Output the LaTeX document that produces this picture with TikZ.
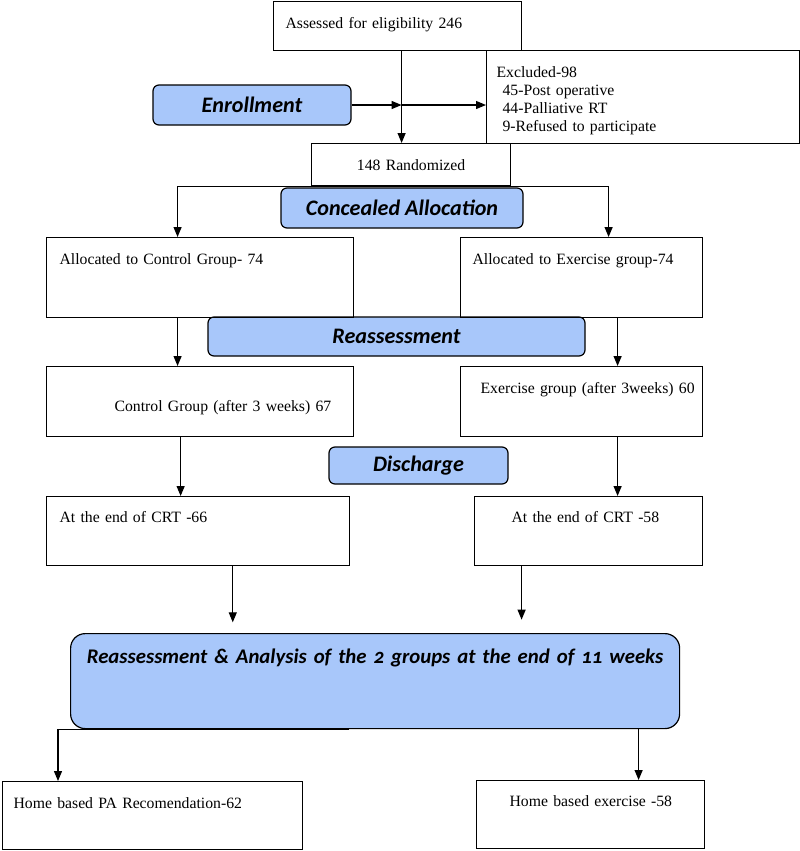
\documentclass[tikz,border=0pt]{standalone}
\usepackage{fontspec}
\setmainfont{Liberation Serif}
\newfontfamily\stagefont{Carlito}[Numbers=OldStyle]
\usetikzlibrary{arrows.meta, backgrounds}

\begin{document}
\begin{tikzpicture}
	[x=0.75pt,y=-0.75pt,line cap=round,
	%Styles
	box/.style={draw,line width=0.9pt,anchor=north west,inner sep=0pt,align=left,font=\fontsize{11.8}{13.5}\selectfont},
	stage/.style={draw,line width=0.9pt,rounded corners=4.5pt,fill=stagecolor,inner sep=0pt,align=center,font=\stagefont\bfseries\itshape\fontsize{16.6}{19}\selectfont},
	flow/.style={line width=0.9pt,-{Triangle[length=7.5pt,width=6pt]}}
	]
	
	%Colors
	\definecolor{stagecolor}{RGB}{168,199,250}	%blue stage boxes
	
	\useasboundingbox (0,0) rectangle (800,851);
	
	%The graphic
	
	\node[box,text width=186pt,text height=20.25pt,text depth=16.5pt] (assess) at (273,1) {\hspace*{9pt}Assessed for eligibility 246};
	\node[box,text width=234.75pt,text height=20.25pt,text depth=49.5pt] (excl) at (486,50) {\hspace*{7.5pt}Excluded-98\\\hspace*{12pt}45-Post operative\\\hspace*{12pt}44-Palliative RT\\\hspace*{12pt}9-Refused to participate};
	\node[box,align=center,text width=149.25pt,text height=20.25pt,text depth=11.25pt] (rand) at (311,143) {148 Randomized};
	
	\node[stage,minimum width=148.5pt,minimum height=30pt] (enroll) at (252,105) {Enrollment};
	\node[stage,minimum width=181.5pt,minimum height=30pt] (alloc) at (402,208) {Concealed Allocation};
	\node[stage,minimum width=282.75pt,minimum height=29.25pt] (reass) at (396.5,336.5) {Reassessment};
	\node[stage,minimum width=134.25pt,minimum height=27.75pt] (disch) at (418.5,465.5) {Discharge};
	\node[stage,anchor=north west,rounded corners=11pt,text width=456.75pt,text height=22.5pt,text depth=48.75pt,font=\stagefont\bfseries\itshape\fontsize{15.6}{18}\selectfont] (final) at (70,633) {Reassessment \& Analysis of the 2 groups at the end of 11 weeks};
	
	\node[box,text width=230.25pt,text height=20.25pt,text depth=39.75pt] (ctrlalloc) at (46,237) {\hspace*{9.75pt}Allocated to Control Group- 74};
	\node[box,text width=181.5pt,text height=20.25pt,text depth=39.75pt] (exalloc) at (460,237) {\hspace*{9pt}Allocated to Exercise group-74};
	\node[box,text width=230.25pt,text height=33.75pt,text depth=18.75pt] (ctrlweek) at (46,366) {\hspace*{51pt}Control Group (after 3 weeks) 67};
	\node[box,text width=181.5pt,text height=20.25pt,text depth=32.25pt] (exweek) at (460,366) {\hspace*{15pt}Exercise group (after 3weeks) 60};
	\node[box,text width=227.25pt,text height=19.5pt,text depth=32.25pt] (ctrlend) at (46,496) {\hspace*{9.75pt}At the end of CRT -66};
	\node[box,text width=171pt,text height=19.5pt,text depth=32.25pt] (exend) at (474,496) {\hspace*{27.75pt}At the end of CRT -58};
	\node[box,text width=225pt,text height=20.25pt,text depth=30.75pt] (ctrlhome) at (2,781) {\hspace*{8.25pt}Home based PA Recomendation-62};
	\node[box,text width=171pt,text height=19.5pt,text depth=31.5pt] (exhome) at (476,780) {\hspace*{24.75pt}Home based exercise -58};
	
	\begin{scope}[on background layer]
		\draw[flow] ([xshift=3pt]assess.south) -- ([xshift=3pt]assess.south |- rand.north);
		\coordinate (cross) at ([xshift=3pt]assess.south |- enroll.east);
		\draw[flow] (enroll.east) -- (cross);
		\draw[flow] (cross) -- (cross -| excl.west);
		
		\draw[flow] (rand.south) -| ([xshift=-16.9pt]ctrlalloc.north);
		\draw[flow] (rand.south) -| ([xshift=20.25pt]exalloc.north);
		\draw[flow] ([xshift=-16.9pt]ctrlalloc.south) -- ([xshift=-16.9pt]ctrlweek.north);
		\draw[flow] ([xshift=27pt]exalloc.south) -- ([xshift=27pt]exweek.north);
		\draw[flow] ([xshift=-14.6pt]ctrlweek.south) -- ([xshift=-14.6pt]ctrlweek.south |- ctrlend.north);
		\draw[flow] ([xshift=27pt]exweek.south) -- ([xshift=27pt]exweek.south |- exend.north);
		\draw[flow] ([xshift=26pt]ctrlend.south) -- ([xshift=26pt,yshift=8pt]ctrlend.south |- final.north);
		\draw[flow] ([xshift=-50.25pt]exend.south) -- ([xshift=-50.25pt,yshift=10pt]exend.south |- final.north);
		\draw[flow] ([xshift=-19.5pt]final.south) -| ([xshift=42pt]ctrlhome.north west);
		\draw[flow] ([xshift=36pt]exhome.north |- final.south) -- ([xshift=36pt]exhome.north);
	\end{scope}
\end{tikzpicture}
\end{document}
